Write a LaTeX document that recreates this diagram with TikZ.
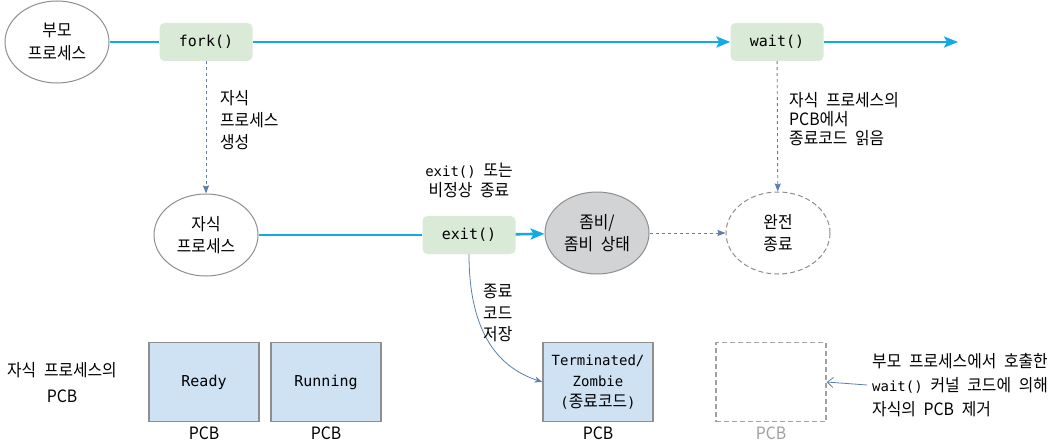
\documentclass[tikz,border=0pt]{standalone}
\usepackage{fontspec}
\setmainfont{Noto Sans CJK KR}[FakeStretch=0.93, WordSpace=2.2]
\setmonofont{DejaVu Sans Mono}
\usetikzlibrary{arrows.meta,positioning,shapes.geometric}
\definecolor{flow}{HTML}{12A9E6}
\definecolor{hintc}{HTML}{5A7FA8}
\definecolor{callbg}{HTML}{D9EBD7}
\definecolor{pcbbg}{HTML}{CFE2F3}
\definecolor{rim}{HTML}{8E8E8E}
\definecolor{zombg}{HTML}{D2D3D5}
\definecolor{goneg}{HTML}{A0A0A0}
\newcommand\callname[1]{{\fontsize{14}{20}\selectfont\ttfamily #1}}

\begin{document}
\begin{tikzpicture}[x=1pt,y=-1pt,
  txt/.style={font=\fontsize{17}{22}\selectfont, align=left, inner sep=2pt},
  proc/.style={ellipse, draw=rim, line width=1pt, minimum width=104pt, minimum height=82pt,
    align=center, font=\fontsize{17}{22.5}\selectfont},
  call/.style={rectangle, rounded corners=5pt, fill=callbg, minimum width=93pt, minimum height=38pt,
    font=\fontsize{15}{20}\selectfont\ttfamily},
  pcbbox/.style={rectangle, draw=rim, fill=pcbbg, line width=1.2pt, minimum width=110pt,
    minimum height=79pt, align=center, font=\fontsize{15}{21}\selectfont\ttfamily},
  pcbname/.style={font=\fontsize{17}{20}\selectfont, inner sep=1pt},
  flowline/.style={draw=flow, line width=2.6pt},
  flowarrow/.style={flowline, -{Stealth[length=14pt,width=11pt,inset=3pt]}},
  hint/.style={draw=hintc, dashed, line width=0.9pt, -{Stealth[length=8pt,width=6pt,inset=1pt]}},
  note/.style={draw=hintc, line width=0.8pt}
]
\useasboundingbox (0,0) rectangle (1054,444);

\node[proc] (parent) at (57,42) {부모\\프로세스};
\node[call] (fork) at (206,42) {fork()};
\node[call] (wait) at (777,42) {wait()};
\coordinate (tail) at (958,42);

\draw[flowline] (parent) -- (fork);
\draw[flowarrow] (fork) -- (wait);
\draw[flowarrow] (wait) -- (tail);

\node[proc] (child) at (206,235) {자식\\프로세스};
\node[call] (exit) at (469,235) {exit()};
\node[proc, fill=zombg] (zombie) at (597,233) {좀비/\\좀비 상태};
\node[proc, dashed, dash pattern=on 5pt off 3pt] (done) at (778,233) {완전\\종료};

\draw[flowline] (child) -- (exit);
\draw[flowarrow] (exit) -- (zombie);
\draw[hint] (zombie) -- (done);
\draw[hint] (fork) -- (child);
\draw[hint] (wait) -- (done);

\node[txt, anchor=west] (forknote) at (218,120) {자식\\프로세스\\생성};
\node[txt, anchor=west, font=\fontsize{17}{19}\selectfont] (waitnote) at (787,119)
  {자식 프로세스의\\PCB에서\\종료코드 읽음};
\node[txt, align=center, font=\fontsize{17}{20}\selectfont] (exitnote) at (469,180)
  {\callname{exit()} 또는\\비정상 종료};

\node[txt, align=center, font=\fontsize{17}{26}\selectfont] (childpcb) at (62,383)
  {자식 프로세스의\\PCB};

\node[pcbbox] (ready) at (204,382) {Ready};
\node[pcbbox] (running) at (326,382) {Running};
\node[pcbbox, font=\fontsize{14}{21}\selectfont\ttfamily] (term) at (598,382)
  {Terminated/\\Zombie\\({\fontsize{17}{21}\selectfont\rmfamily 종료코드})};
\node[rectangle, draw=goneg, dashed, dash pattern=on 5pt off 3pt, line width=1.2pt,
  minimum width=110pt, minimum height=79pt] (gone) at (771,382) {};

\node[pcbname, below=4pt of ready] (readyname) {PCB};
\node[pcbname, below=4pt of running] (runningname) {PCB};
\node[pcbname, below=4pt of term] (termname) {PCB};
\node[pcbname, below=4pt of gone, text=goneg] (gonename) {PCB};

\draw[note, -{Stealth[length=8pt,width=6pt]}] (exit.south) .. controls (469,335) and (500,368) .. (term.west);
\node[txt, anchor=west, font=\fontsize{17}{21.5}\selectfont] (savenote) at (481,313) {종료\\코드\\저장};

\node[txt, anchor=west, font=\fontsize{17}{24}\selectfont] (rmnote) at (870,385)
  {부모 프로세스에서 호출한\\\callname{wait()} 커널 코드에 의해\\자식의 PCB 제거};
\draw[note, -{Straight Barb[length=6pt,width=10pt]}] (rmnote.west) ++(-3,0) -- (gone.east);

\end{tikzpicture}
\end{document}
